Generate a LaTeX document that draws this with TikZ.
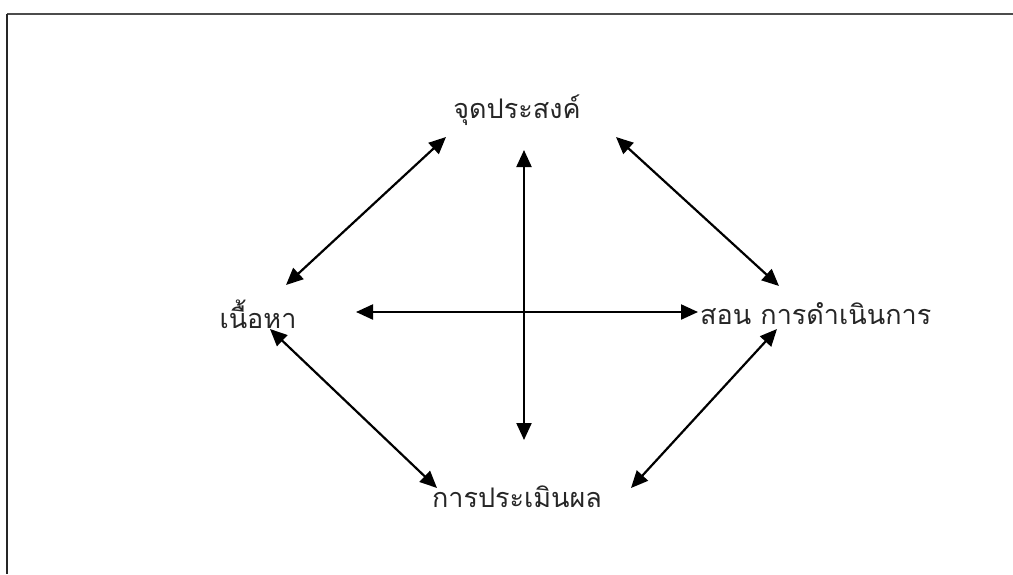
\documentclass[tikz,border=0pt]{standalone}
\usepackage{fontspec}
\newfontfamily\thaifont[Script=Thai]{Loma}
\usetikzlibrary{arrows.meta}
\tikzset{
  lbl/.style={font=\thaifont\fontsize{27}{30}\selectfont, inner sep=0pt, anchor=center, text=black!85},
  link/.style={line width=2.2pt, {Triangle[length=17pt,width=15pt]}-{Triangle[length=17pt,width=15pt]}}
}
\begin{document}
\begin{tikzpicture}[x=1pt,y=-1pt]
\useasboundingbox (0,0) rectangle (1013,574);
\draw[line width=2pt, black!70] (7,14) -- (1013,14);
\draw[line width=2pt, black!85] (7,14) -- (7,574);
\node[lbl] (obj) at (517,110) {จุดประสงค์};
\node[lbl] (cont) at (258,314) {เนื้อหา};
\node[lbl, anchor=west] (teach) at (700,314) {สอน การดำเนินการ};
\node[lbl] (eval) at (517,497) {การประเมินผล};
\coordinate (vt) at (524,150);
\coordinate (vb) at (524,440);
\coordinate (hl) at (356,312);
\coordinate (hr) at (698,312);
\coordinate (tl1) at (446,137);
\coordinate (tl2) at (286,285);
\coordinate (tr1) at (616,137);
\coordinate (tr2) at (779,286);
\coordinate (bl1) at (270,329);
\coordinate (bl2) at (437,488);
\coordinate (br1) at (777,329);
\coordinate (br2) at (631,488);
\draw[link] (vt) -- (vb);
\draw[link] (hl) -- (hr);
\draw[link] (tl1) -- (tl2);
\draw[link] (tr1) -- (tr2);
\draw[link] (bl1) -- (bl2);
\draw[link] (br1) -- (br2);
\end{tikzpicture}
\end{document}
